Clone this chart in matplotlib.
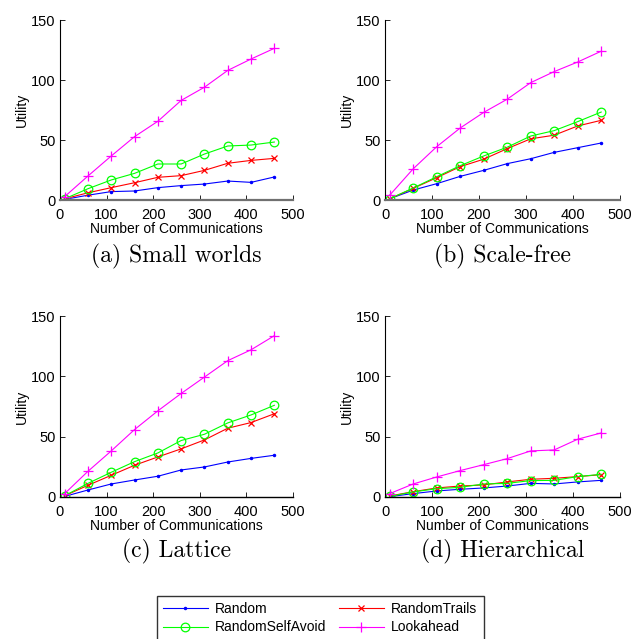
import matplotlib
matplotlib.use("Agg")
import matplotlib.pyplot as plt

x = [10, 60, 110, 160, 210, 260, 310, 360, 410, 460]
series_names = ["Random", "RandomTrails", "RandomSelfAvoid", "Lookahead"]

small_random = [0.5, 4, 7, 7.5, 10.3, 12, 13.3, 15.8, 14.7, 19.2]
small_trails = [1, 6, 10.3, 14.4, 18.9, 20.3, 24.7, 30.6, 33, 34.7]
small_selfavoid = [1, 9.4, 16.7, 22.2, 30, 30, 38.3, 45, 45.8, 48.3]
small_lookahead = [2.8, 20, 36.7, 52.8, 65.6, 83, 94, 108, 117.5, 126.4]

scale_random = [1, 8.3, 13.6, 19.7, 24.7, 30.3, 34.4, 39.7, 43.6, 47.5]
scale_trails = [1, 9.7, 18.6, 27.8, 34, 42.8, 51, 54, 61.7, 66.4]
scale_selfavoid = [1, 10, 19.4, 28.6, 36.7, 44, 53.3, 57.8, 65.3, 73.3]
scale_lookahead = [4, 26, 44.4, 60, 73, 84, 97.8, 107, 115, 124]

lat_random = [0.5, 5.8, 10.8, 14.1, 17.2, 22.4, 24.9, 29, 32, 34.6]
lat_trails = [1, 9.7, 18, 26.3, 33.2, 39.9, 47.3, 57, 61.7, 69]
lat_selfavoid = [1, 11.3, 20.5, 29.3, 36.5, 46.8, 52, 61.4, 68, 76]
lat_lookahead = [2.8, 21.3, 38.2, 55.9, 71.4, 85.8, 99.4, 113, 122, 133.7]

hier_random = [0.3, 2.8, 5, 6.4, 7.5, 9.1, 11.3, 10.8, 12.5, 13.8]
hier_trails = [0.8, 4.4, 7.5, 9.1, 10, 12.5, 14.7, 15.5, 16.9, 18.5]
hier_selfavoid = [0.5, 4.2, 6.9, 8, 10.8, 11.3, 13.6, 13.8, 16.9, 18.8]
hier_lookahead = [2.8, 10.8, 16.6, 21.9, 26.8, 31.8, 38.2, 39, 47.9, 53.1]

panels = [
    ("(a) Small worlds", [small_random, small_trails, small_selfavoid, small_lookahead]),
    ("(b) Scale-free", [scale_random, scale_trails, scale_selfavoid, scale_lookahead]),
    ("(c) Lattice", [lat_random, lat_trails, lat_selfavoid, lat_lookahead]),
    ("(d) Hierarchical", [hier_random, hier_trails, hier_selfavoid, hier_lookahead]),
]

xticks = [0, 100, 200, 300, 400, 500]
yticks = [0, 50, 100, 150]

styles = [
    dict(color="#0000ff", marker=".", markersize=3),
    dict(color="#ff0000", marker="x", markersize=4.5, markeredgewidth=0.9),
    dict(color="#00ff00", marker="o", markersize=6.2, markerfacecolor="none", markeredgewidth=0.9),
    dict(color="#ff00ff", marker="+", markersize=7, markeredgewidth=0.9),
]

plt.rcParams["font.family"] = ["Liberation Sans", "DejaVu Sans"]
fig = plt.figure(figsize=(6.38, 6.39), dpi=100)

W, H = 638, 639
rects = [
    (60, 20, 293, 200),
    (385, 20, 620, 200),
    (60, 316, 293, 497),
    (385, 316, 620, 497),
]
title_y = [256, 256, 551, 551]
spine_col = ["#707070", "#707070", "black", "black"]

handles = None
for i, ((title, data), (l, t, r, b)) in enumerate(zip(panels, rects)):
    ax = fig.add_axes([l / W, 1 - b / H, (r - l) / W, (b - t) / H])
    hs = []
    for name, vals, st in zip(series_names, data, styles):
        h, = ax.plot(x, vals, linewidth=0.8, label=name, **st)
        hs.append(h)
    handles = hs
    ax.set_xlim(0, 500)
    ax.set_ylim(0, 150)
    ax.set_xticks(xticks)
    ax.set_yticks(yticks)
    ax.spines["top"].set_visible(False)
    ax.spines["right"].set_visible(False)
    ax.spines["bottom"].set_color(spine_col[i])
    ax.spines["bottom"].set_linewidth(1.6 if i < 2 else 1.0)
    ax.spines["left"].set_linewidth(0.8)
    ax.tick_params(direction="in", length=3.5, width=0.6, labelsize=10.5)
    ax.tick_params(axis="x", pad=6)
    ax.tick_params(axis="y", pad=3)
    ax.set_xlabel("Number of Communications", fontsize=10, labelpad=0)
    ax.set_ylabel("Utility", fontsize=10, labelpad=2)
    cx = (l + r) / 2 / W
    fig.text(cx, 1 - title_y[i] / H, title, ha="center", va="center",
             fontsize=17, family="cmr10")

leg = fig.legend(
    [handles[0], handles[2], handles[1], handles[3]],
    [series_names[0], series_names[2], series_names[1], series_names[3]],
    loc="upper left", bbox_to_anchor=(157 / W, 1 - 596 / H), borderaxespad=0,
    ncol=2, frameon=True, fancybox=False, edgecolor="black", fontsize=10,
    handlelength=3.2, columnspacing=0.9, borderpad=0.45, labelspacing=0.3,
    handletextpad=0.55,
)
leg.get_frame().set_linewidth(1.0)

fig.savefig("out.png", dpi=100)
